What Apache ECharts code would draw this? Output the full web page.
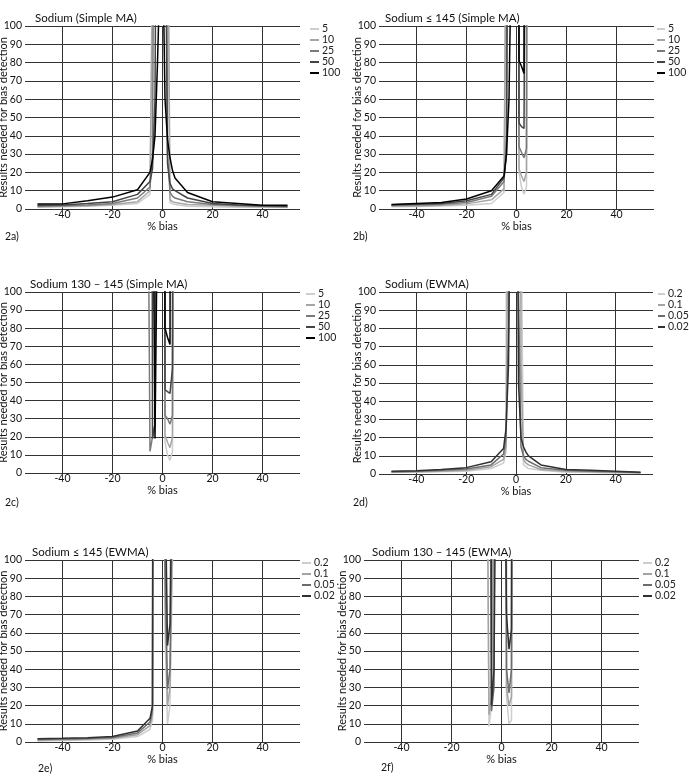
<!DOCTYPE html>
<html>
<head>
<meta charset="utf-8">
<script src="https://cdn.jsdelivr.net/npm/echarts@6/dist/echarts.min.js"></script>
<style>
html,body{margin:0;padding:0;background:#fff;}
#main{width:689px;height:776px;}
</style>
</head>
<body>
<div id="main"></div>
<script>
// ---- data ----
const biasX = [-50,-40,-30,-20,-10,-5,-4,-3,-2,-1,0,1,2,3,4,5,10,20,30,40,50];
const xTicks = [-40,-20,0,20,40];

const maNames = ['5','10','25','50','100'];
const ewmaNames = ['0.2','0.1','0.05','0.02'];

// 2a Sodium (Simple MA)
const a5   = [1.0,1.2,1.5,2.0,3.0,8,150,1000,1000,1000,1000,1000,150,3.5,2.8,2.5,1.5,1.2,1.0,1.0,0.8];
const a10  = [1.2,1.5,1.8,2.5,4,10,120,1000,1000,1000,1000,1000,200,5,4,3.5,2.5,2,1.5,1.2,1.0];
const a25  = [1.5,1.8,2.2,3,6,12,30,300,1000,1000,1000,300,30,9,7,6,4,2.5,2,1.5,1.2];
const a50  = [2,2.2,3,4,8,15,22,60,300,1000,1000,200,25,14,11,10,6,3,2.2,1.8,1.5];
const a100 = [2.8,2.8,4.5,6.5,10.5,20,27,40,80,130,150,60,38,28,21,17,9,4,3,2,2];

// 2b Sodium <= 145 (Simple MA)
const b5   = [1.2,1.4,1.6,2,3,9,150,1000,1000,1000,1000,20,12,8,12,1000,null,null,null,null,null];
const b10  = [1.5,1.7,2,2.8,5,11,200,1000,1000,1000,1000,22,18,15,20,1000,null,null,null,null,null];
const b25  = [2,2.2,2.6,3.5,7,15,40,1000,1000,1000,1000,34,31,28,33,1000,null,null,null,null,null];
const b50  = [2.3,2.6,3,4.5,8,17,30,300,1000,1000,1000,47,45,44,300,1000,null,null,null,null,null];
const b100 = [2.5,3,3.5,5.5,10,18,30,60,150,1000,1000,81,78,74,1000,null,null,null,null,null,null];

// 2c Sodium 130 - 145 (Simple MA)
const c5   = [null,null,null,null,1000,1000,1000,1000,1000,1000,1000,17,10,7,12,1000,null,null,null,null,null];
const c10  = [null,null,null,null,1000,1000,1000,1000,1000,1000,1000,21,17,14,20,1000,null,null,null,null,null];
const c25  = [null,null,null,null,1000,12,20,27,1000,1000,1000,32,30,27,32,1000,null,null,null,null,null];
const c50  = [null,null,null,null,1000,1000,19,27,1000,1000,1000,46,45,44,58,1000,null,null,null,null,null];
const c100 = [null,null,null,null,1000,1000,200,19,150,1000,1000,80,75,71,1000,null,null,null,null,null,null];

// 2d Sodium (EWMA)
const d02  = [0.8,1,1.2,1.5,3,6,12,1000,1000,1000,1000,1000,150,5,4,3,2,1,0.8,0.6,0.5];
const d01  = [1,1.2,1.5,2,4,8,15,200,1000,1000,1000,1000,60,8,6,5,2.5,1.5,1.2,1,0.7];
const d005 = [1.2,1.5,2,2.8,5,11,20,80,1000,1000,1000,100,15,10,8,7,3.5,2,1.5,1.2,0.8];
const d002 = [1.5,1.8,2.5,3.5,6.7,14,25,60,200,1000,300,50,20,15,12,10,5,2.5,2,1.5,1];

// 2e Sodium <= 145 (EWMA)
const e02  = [0.6,0.8,1.1,1.5,3,7,12,1000,1000,1000,1000,60,10,20,100,1000,null,null,null,null,null];
const e01  = [1.0,1.2,1.5,2,4,9,15,1000,1000,1000,1000,80,20,30,120,1000,null,null,null,null,null];
const e005 = [1.4,1.6,1.9,2.5,5,11,18,1000,1000,1000,1000,100,29,40,150,1000,null,null,null,null,null];
const e002 = [1.8,2,2.3,3,6,13,20,1000,1000,1000,1000,150,53,65,200,1000,null,null,null,null,null];

// 2f Sodium 130 - 145 (EWMA)
const f02  = [null,null,null,null,1000,8.5,20,150,1000,1000,1000,1000,25,10,12,1000,null,null,null,null,null];
const f01  = [null,null,null,null,1000,15,25,200,1000,1000,1000,1000,30,20,25,1000,null,null,null,null,null];
const f005 = [null,null,null,null,1000,300,17,30,1000,1000,1000,1000,40,27,40,1000,null,null,null,null,null];
const f002 = [null,null,null,null,1000,1000,20,40,200,1000,1000,200,70,51,62,1000,null,null,null,null,null];

const maColors = ['#cdcdcd','#a6a6a6','#7a7a7a','#444444','#000000'];
const ewmaColors = ['#cdcdcd','#a3a3a3','#6c6c6c','#303030'];

// ---- layout ----
const FONT = 'Lato';
const panels = [
  {title:'Sodium (Simple MA)', tag:'2a)', names:maNames, colors:maColors, data:[a5,a10,a25,a50,a100],
   grid:{left:25,top:26,width:275,height:183}, titlePos:[35,12.5], tagPos:[5,231], legendPos:[310,23.5], iw:9},
  {title:'Sodium \u2264 145 (Simple MA)', tag:'2b)', names:maNames, colors:maColors, data:[b5,b10,b25,b50,b100],
   grid:{left:379,top:26,width:275,height:183}, titlePos:[385,12.5], tagPos:[353,231], legendPos:[657,23.5], iw:8},
  {title:'Sodium 130 \u2013 145 (Simple MA)', tag:'2c)', names:maNames, colors:maColors, data:[c5,c10,c25,c50,c100],
   grid:{left:25,top:292,width:275,height:181}, titlePos:[30,278], tagPos:[5,497], legendPos:[306,288.5], iw:9},
  {title:'Sodium (EWMA)', tag:'2d)', names:ewmaNames, colors:ewmaColors, data:[d02,d01,d005,d002],
   grid:{left:379,top:292,width:274,height:182}, titlePos:[385,278], tagPos:[353,497], legendPos:[658,288.5], iw:7},
  {title:'Sodium \u2264 145 (EWMA)', tag:'2e)', names:ewmaNames, colors:ewmaColors, data:[e02,e01,e005,e002],
   grid:{left:25,top:560,width:275,height:182}, titlePos:[32,546], tagPos:[38,763], legendPos:[302,557.5], iw:9},
  {title:'Sodium 130 \u2013 145 (EWMA)', tag:'2f)', names:ewmaNames, colors:ewmaColors, data:[f02,f01,f005,f002],
   grid:{left:364,top:560,width:275,height:182}, titlePos:[372,546], tagPos:[381,762], legendPos:[643,557.5], iw:9}
];

const option = {
  backgroundColor:'#fff',
  animation:false,
  textStyle:{fontFamily:FONT},
  title:[], legend:[], grid:[], xAxis:[], yAxis:[], series:[]
};

panels.forEach((p, gi) => {
  option.grid.push(Object.assign({containLabel:false, outerBoundsMode:'none'}, p.grid));
  option.title.push({text:p.title, left:p.titlePos[0], top:p.titlePos[1], padding:0,
    textStyle:{fontFamily:FONT, fontSize:11.5, fontWeight:'normal', color:'#111'}});
  option.title.push({text:p.tag, left:p.tagPos[0], top:p.tagPos[1], padding:0,
    textStyle:{fontFamily:FONT, fontSize:10.5, fontWeight:'normal', color:'#111'}});
  option.legend.push({
    data:p.names, orient:'vertical', left:p.legendPos[0], top:p.legendPos[1],
    icon:'rect', itemWidth:p.iw, itemHeight:2, itemGap:0, padding:0, selectedMode:false,
    textStyle:{fontFamily:FONT, fontSize:10.5, color:'#222', padding:[0,0,0,-2], lineHeight:10}
  });
  option.xAxis.push({
    type:'value', gridIndex:gi, min:-55, max:55,
    name:'% bias', nameLocation:'middle', nameGap:12, nameMoveOverlap:false,
    nameTextStyle:{fontFamily:FONT, fontSize:11, color:'#111'},
    axisLine:{show:false}, axisTick:{show:false, customValues:xTicks},
    axisLabel:{customValues:xTicks, fontFamily:FONT, fontSize:10.5, color:'#111', margin:0},
    splitLine:{show:true, lineStyle:{color:'#333', width:1}}
  });
  option.yAxis.push({
    type:'value', gridIndex:gi, min:0, max:100, interval:10,
    name:'Results needed for bias detection', nameLocation:'middle', nameGap:16, nameRotate:90,
    nameMoveOverlap:false,
    nameTextStyle:{fontFamily:FONT, fontSize:11, color:'#111'},
    axisLine:{show:false}, axisTick:{show:false},
    axisLabel:{fontFamily:FONT, fontSize:10.5, color:'#111', margin:3},
    splitLine:{show:true, lineStyle:{color:'#333', width:1}}
  });
  p.names.forEach((nm, si) => {
    const vals = p.data[si];
    const pts = [];
    biasX.forEach((x, i) => { if (vals[i] !== null) pts.push([x, vals[i]]); });
    option.series.push({
      type:'line', name:nm, xAxisIndex:gi, yAxisIndex:gi, data:pts,
      symbol:'none', clip:true, z:3+si,
      lineStyle:{color:p.colors[si], width:1.5}, itemStyle:{color:p.colors[si]}
    });
  });
});

const chart = echarts.init(document.getElementById('main'), null, {renderer:'canvas'});
chart.setOption(option);
</script>
</body>
</html>
